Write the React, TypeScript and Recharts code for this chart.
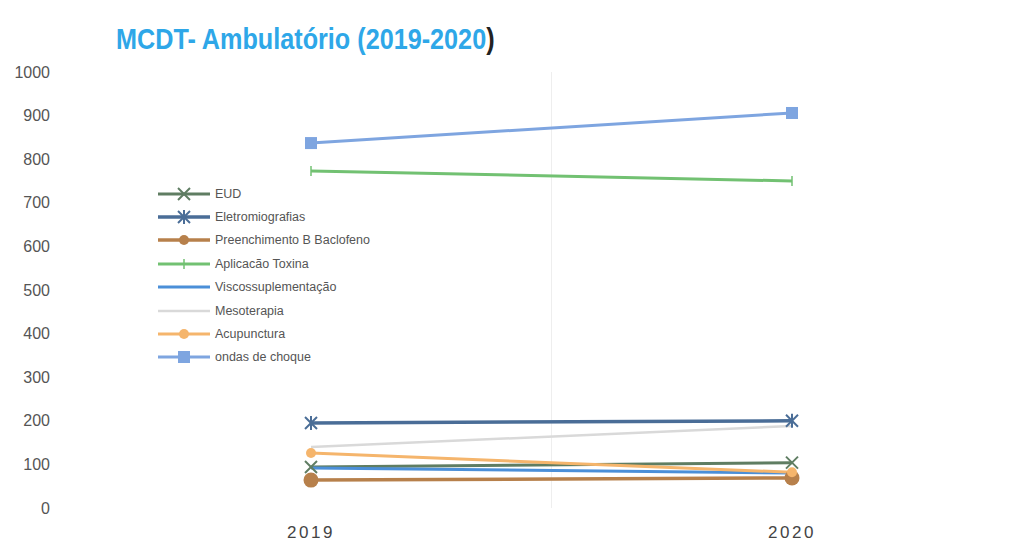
import { CartesianGrid, Legend, Line, LineChart, XAxis, YAxis } from "recharts";

const years = ["2019", "2020"];

const eud = [94, 104];
const eletromiografias = [195, 200];
const preenchimento = [64, 69];
const toxina = [773, 750];
const viscossuplementacao = [92, 80];
const mesoterapia = [140, 188];
const acupunctura = [126, 82];
const ondasChoque = [837, 906];

const yTicks = [0, 100, 200, 300, 400, 500, 600, 700, 800, 900, 1000];

type Marker = "x" | "star" | "circle" | "plus" | "none" | "smallCircle" | "square";

const series: { key: string; name: string; values: number[]; color: string; width: number; marker: Marker }[] = [
  { key: "eud", name: "EUD", values: eud, color: "#5f7d62", width: 3, marker: "x" },
  { key: "eletro", name: "Eletromiografias", values: eletromiografias, color: "#4a6d97", width: 3.5, marker: "star" },
  { key: "preench", name: "Preenchimento B  Baclofeno", values: preenchimento, color: "#b7804b", width: 3.5, marker: "circle" },
  { key: "toxina", name: "Aplicacão Toxina", values: toxina, color: "#72c172", width: 3, marker: "plus" },
  { key: "visc", name: "Viscossuplementação", values: viscossuplementacao, color: "#4b8fd8", width: 3, marker: "none" },
  { key: "meso", name: "Mesoterapia", values: mesoterapia, color: "#d9d9d9", width: 2.5, marker: "none" },
  { key: "acup", name: "Acupunctura", values: acupunctura, color: "#f5b56c", width: 3, marker: "smallCircle" },
  { key: "ondas", name: "ondas de choque", values: ondasChoque, color: "#7ea5e0", width: 3, marker: "square" },
];

const data = years.map((year, i) => {
  const row: Record<string, string | number> = { year };
  series.forEach((s) => {
    row[s.key] = s.values[i];
  });
  return row;
});

function MarkerShape({ cx, cy, marker, color }: { cx: number; cy: number; marker: Marker; color: string }) {
  switch (marker) {
    case "x":
      return (
        <g stroke={color} strokeWidth={2}>
          <line x1={cx - 6} y1={cy - 6} x2={cx + 6} y2={cy + 6} />
          <line x1={cx - 6} y1={cy + 6} x2={cx + 6} y2={cy - 6} />
        </g>
      );
    case "star":
      return (
        <g stroke={color} strokeWidth={2}>
          <line x1={cx - 6} y1={cy - 6} x2={cx + 6} y2={cy + 6} />
          <line x1={cx - 6} y1={cy + 6} x2={cx + 6} y2={cy - 6} />
          <line x1={cx} y1={cy - 7} x2={cx} y2={cy + 7} />
        </g>
      );
    case "circle":
      return <circle cx={cx} cy={cy} r={7.5} fill={color} />;
    case "smallCircle":
      return <circle cx={cx} cy={cy} r={5} fill={color} />;
    case "plus":
      return <line x1={cx} y1={cy - 5} x2={cx} y2={cy + 5} stroke={color} strokeWidth={1.5} />;
    case "square":
      return <rect x={cx - 6} y={cy - 6} width={12} height={12} fill={color} />;
    default:
      return <g />;
  }
}

function LegendBox() {
  return (
    <div style={{ fontFamily: "'Liberation Sans', Arial, sans-serif", fontSize: 12.5, color: "#555" }}>
      {series.map((s) => (
        <div key={s.key} style={{ display: "flex", alignItems: "center", height: 23.4 }}>
          <svg width={56} height={16} style={{ marginRight: 3 }}>
            <line x1={2} y1={8} x2={54} y2={8} stroke={s.color} strokeWidth={s.width} />
            <MarkerShape cx={28} cy={8} marker={s.marker === "circle" ? "smallCircle" : s.marker} color={s.color} />
          </svg>
          <span>{s.name}</span>
        </div>
      ))}
    </div>
  );
}

export default function App() {
  return (
    <div style={{ position: "absolute", left: 0, top: 0, width: 1033, height: 542, background: "#fff" }}>
      <div
        style={{
          position: "absolute",
          left: 116,
          top: 22,
          fontFamily: "'Liberation Sans', Arial, sans-serif",
          fontWeight: "bold",
          fontSize: 30,
          color: "#2ea7e8",
          whiteSpace: "nowrap",
          transform: "scaleX(0.84)",
          transformOrigin: "left center",
        }}
      >
        MCDT- Ambulatório (2019-2020<span style={{ color: "#222" }}>)</span>
      </div>
      <LineChart width={1033} height={542} data={data} margin={{ top: 72, right: 0, bottom: 0, left: 0 }}>
        <CartesianGrid
          horizontal={false}
          stroke="#eeeeee"
          verticalCoordinatesGenerator={({ offset }: any) => [offset.left + offset.width / 2]}
        />
        <XAxis
          dataKey="year"
          axisLine={false}
          tickLine={false}
          height={34}
          tickMargin={12}
          padding={{ left: 241, right: 241 }}
          tick={{ fill: "#444", fontSize: 17, letterSpacing: 2.5, fontFamily: "'Liberation Sans', Arial, sans-serif" }}
        />
        <YAxis
          domain={[0, 1000]}
          ticks={yTicks}
          width={70}
          axisLine={false}
          tickLine={false}
          tickMargin={14}
          interval={0}
          tick={{ fill: "#555", fontSize: 16, fontFamily: "'Liberation Sans', Arial, sans-serif" }}
        />
        <Legend
          layout="vertical"
          align="center"
          verticalAlign="middle"
          content={() => <LegendBox />}
          wrapperStyle={{ left: 156, top: 182, width: 260 }}
        />
        {series.map((s) => (
          <Line
            key={s.key}
            dataKey={s.key}
            name={s.name}
            stroke={s.color}
            strokeWidth={s.width}
            isAnimationActive={false}
            dot={(p: any) => (
              <MarkerShape key={`${s.key}-${p.index}`} cx={p.cx} cy={p.cy} marker={s.marker} color={s.color} />
            )}
            activeDot={false}
          />
        ))}
      </LineChart>
    </div>
  );
}
